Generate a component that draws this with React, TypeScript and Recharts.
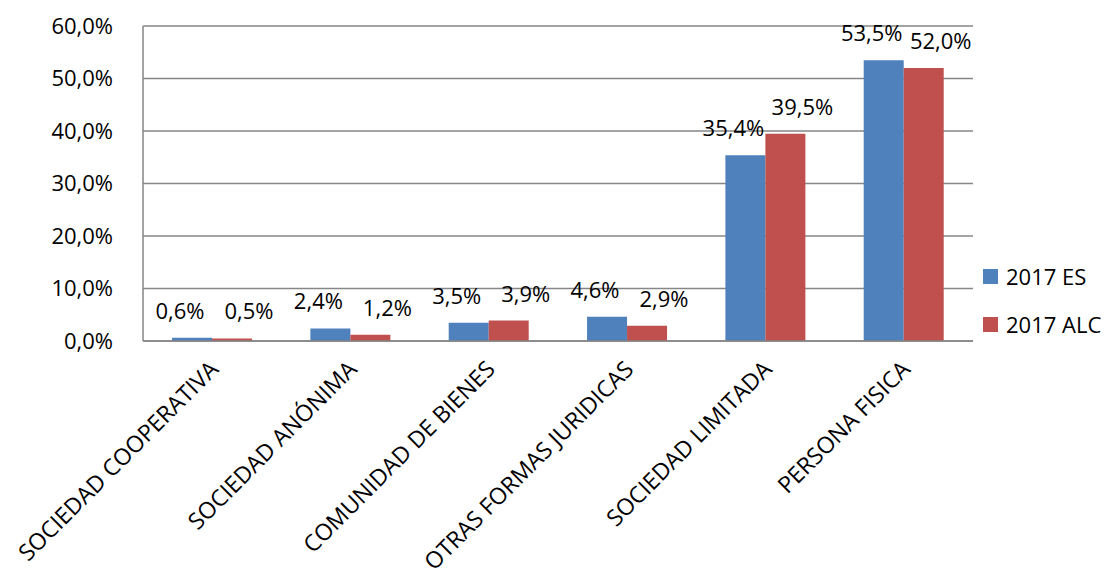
import { Bar, BarChart, CartesianGrid, LabelList, Legend, XAxis, YAxis } from "recharts";

const categories = [
    "SOCIEDAD COOPERATIVA",
    "SOCIEDAD ANÓNIMA",
    "COMUNIDAD DE BIENES",
    "OTRAS FORMAS JURIDICAS",
    "SOCIEDAD LIMITADA",
    "PERSONA FISICA",
];
const es2017 = [0.6, 2.4, 3.5, 4.6, 35.4, 53.5];
const alc2017 = [0.5, 1.2, 3.9, 2.9, 39.5, 52.0];
const yTicks = [0, 10, 20, 30, 40, 50, 60];

const series = [
    { key: "es", name: "2017 ES", color: "#4F81BD" },
    { key: "alc", name: "2017 ALC", color: "#C0504D" },
];

const data = categories.map((name, i) => ({ name, es: es2017[i], alc: alc2017[i] }));

const FONT = "'Open Sans', sans-serif";
const pct = (v: number) => v.toFixed(1).replace(".", ",") + "%";

function CategoryTick(props: any) {
    const { x, y, payload } = props;
    return (
        <g transform={`translate(${x + 2},${y + 16})`}>
            <text transform="rotate(-45)" textAnchor="end" dy="0.35em" fontSize={23} fill="#000" fontFamily={FONT}>
                {payload.value}
            </text>
        </g>
    );
}

function makeLabel(dx: number) {
    return (props: any) => {
        const { x, y, width, value } = props;
        return (
            <text x={x + width / 2 + dx} y={y - 19} textAnchor="middle" fontSize={22} fill="#000" fontFamily={FONT}>
                {pct(value)}
            </text>
        );
    };
}

function SeriesLegend() {
    return (
        <div style={{ fontFamily: FONT, fontSize: 22, color: "#000" }}>
            {series.map((s) => (
                <div key={s.key} style={{ display: "flex", alignItems: "center", height: 48 }}>
                    <span style={{ width: 15, height: 15, background: s.color, marginRight: 8 }} />
                    <span>{s.name}</span>
                </div>
            ))}
        </div>
    );
}

export default function App() {
    return (
        <div style={{ position: "absolute", left: 0, top: 0, background: "#fff" }}>
            <BarChart
                width={1107}
                height={577}
                data={data}
                margin={{ top: 26, right: 10, bottom: 0, left: 0 }}
                barCategoryGap="21%"
                barGap={0}
            >
                <CartesianGrid vertical={false} stroke="#868686" strokeWidth={1.5} />
                <XAxis
                    dataKey="name"
                    height={236}
                    interval={0}
                    tickLine={false}
                    axisLine={{ stroke: "#868686", strokeWidth: 1.5 }}
                    tick={<CategoryTick />}
                />
                <YAxis
                    width={143}
                    domain={[0, 60]}
                    ticks={yTicks}
                    tickFormatter={pct}
                    tickLine={false}
                    tickMargin={24}
                    axisLine={{ stroke: "#868686", strokeWidth: 1.5 }}
                    tick={{ fontSize: 22, fill: "#000", fontFamily: FONT }}
                />
                <Legend
                    layout="vertical"
                    align="right"
                    verticalAlign="middle"
                    content={<SeriesLegend />}
                    wrapperStyle={{ top: 252, right: 0, width: 124 }}
                />
                {series.map((s, i) => (
                    <Bar key={s.key} dataKey={s.key} name={s.name} fill={s.color} isAnimationActive={false}>
                        <LabelList dataKey={s.key} content={makeLabel(i === 0 ? -12 : 17)} />
                    </Bar>
                ))}
            </BarChart>
        </div>
    );
}
